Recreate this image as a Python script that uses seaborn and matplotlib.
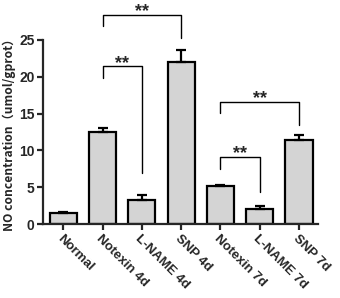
import numpy as np
import pandas as pd
import matplotlib
matplotlib.use('Agg')
import matplotlib.pyplot as plt
import seaborn as sns

# 값은 그림에서 읽어 온 추정치
groups = ['Normal', 'Notexin 4d', 'L-NAME 4d', 'SNP 4d', 'Notexin 7d', 'L-NAME 7d', 'SNP 7d']
no_mean = [1.5, 12.5, 3.3, 22.0, 5.2, 2.0, 11.4]
no_err = [0.1, 0.6, 0.7, 1.7, 0.1, 0.45, 0.7]

# 유의성 표시: (왼쪽 그룹, 오른쪽 그룹, 가로선 높이, 왼쪽 다리 끝, 오른쪽 다리 끝)
sig_pairs = [(1, 3, 28.4, 26.9, 25.2),
             (1, 2, 21.4, 19.8, 7.0),
             (4, 6, 16.6, 15.1, 13.4),
             (4, 5, 9.1, 7.5, 4.3)]
sig_label = '**'

df = pd.DataFrame({'group': groups, 'NO': no_mean})

sns.set_style('ticks')
plt.rcParams['font.family'] = ['Liberation Sans', 'DejaVu Sans']

fig = plt.figure(figsize=(3.4, 2.98), dpi=100)
ax = fig.add_axes([0.126, 0.248, 0.809, 0.618])

sns.barplot(data=df, x='group', y='NO', color='#d4d4d4', edgecolor='black',
            linewidth=1.6, width=0.69, errorbar=None, ax=ax, saturation=1)
x = np.arange(len(groups))
ax.errorbar(x, no_mean, yerr=[np.zeros(len(no_err)), no_err], fmt='none',
            ecolor='black', elinewidth=1.6, capsize=3.5, capthick=1.6, zorder=1)

for l, r, h, hl, hr in sig_pairs:
    ax.plot([l, l, r, r], [hl, h, h, hr], color='black', lw=1.0, clip_on=False)
    ax.text((l + r) / 2, h - 0.2, sig_label, ha='center', va='baseline',
            fontsize=13, fontweight='bold', clip_on=False)

ax.set_xlim(-0.52, 6.48)
ax.set_ylim(0, 25)
ax.set_yticks([0, 5, 10, 15, 20, 25])
ax.set_xlabel('')
ax.set_ylabel('NO concentration（umol/gprot）', fontsize=8.7, fontweight='bold',
              family=['Noto Sans CJK SC', 'DejaVu Sans'], labelpad=2)
sns.despine(ax=ax)
for s in ['left', 'bottom']:
    ax.spines[s].set_linewidth(1.6)
ax.tick_params(axis='both', width=1.6, length=4, direction='out', pad=2)
for t in ax.get_yticklabels():
    t.set_fontsize(10)
    t.set_fontweight('bold')
ax.set_xticks(x)
ax.set_xticklabels(groups, rotation=-45, ha='left', rotation_mode='anchor',
                   fontsize=9.5, fontweight='bold')

fig.savefig('out.png', dpi=100)
